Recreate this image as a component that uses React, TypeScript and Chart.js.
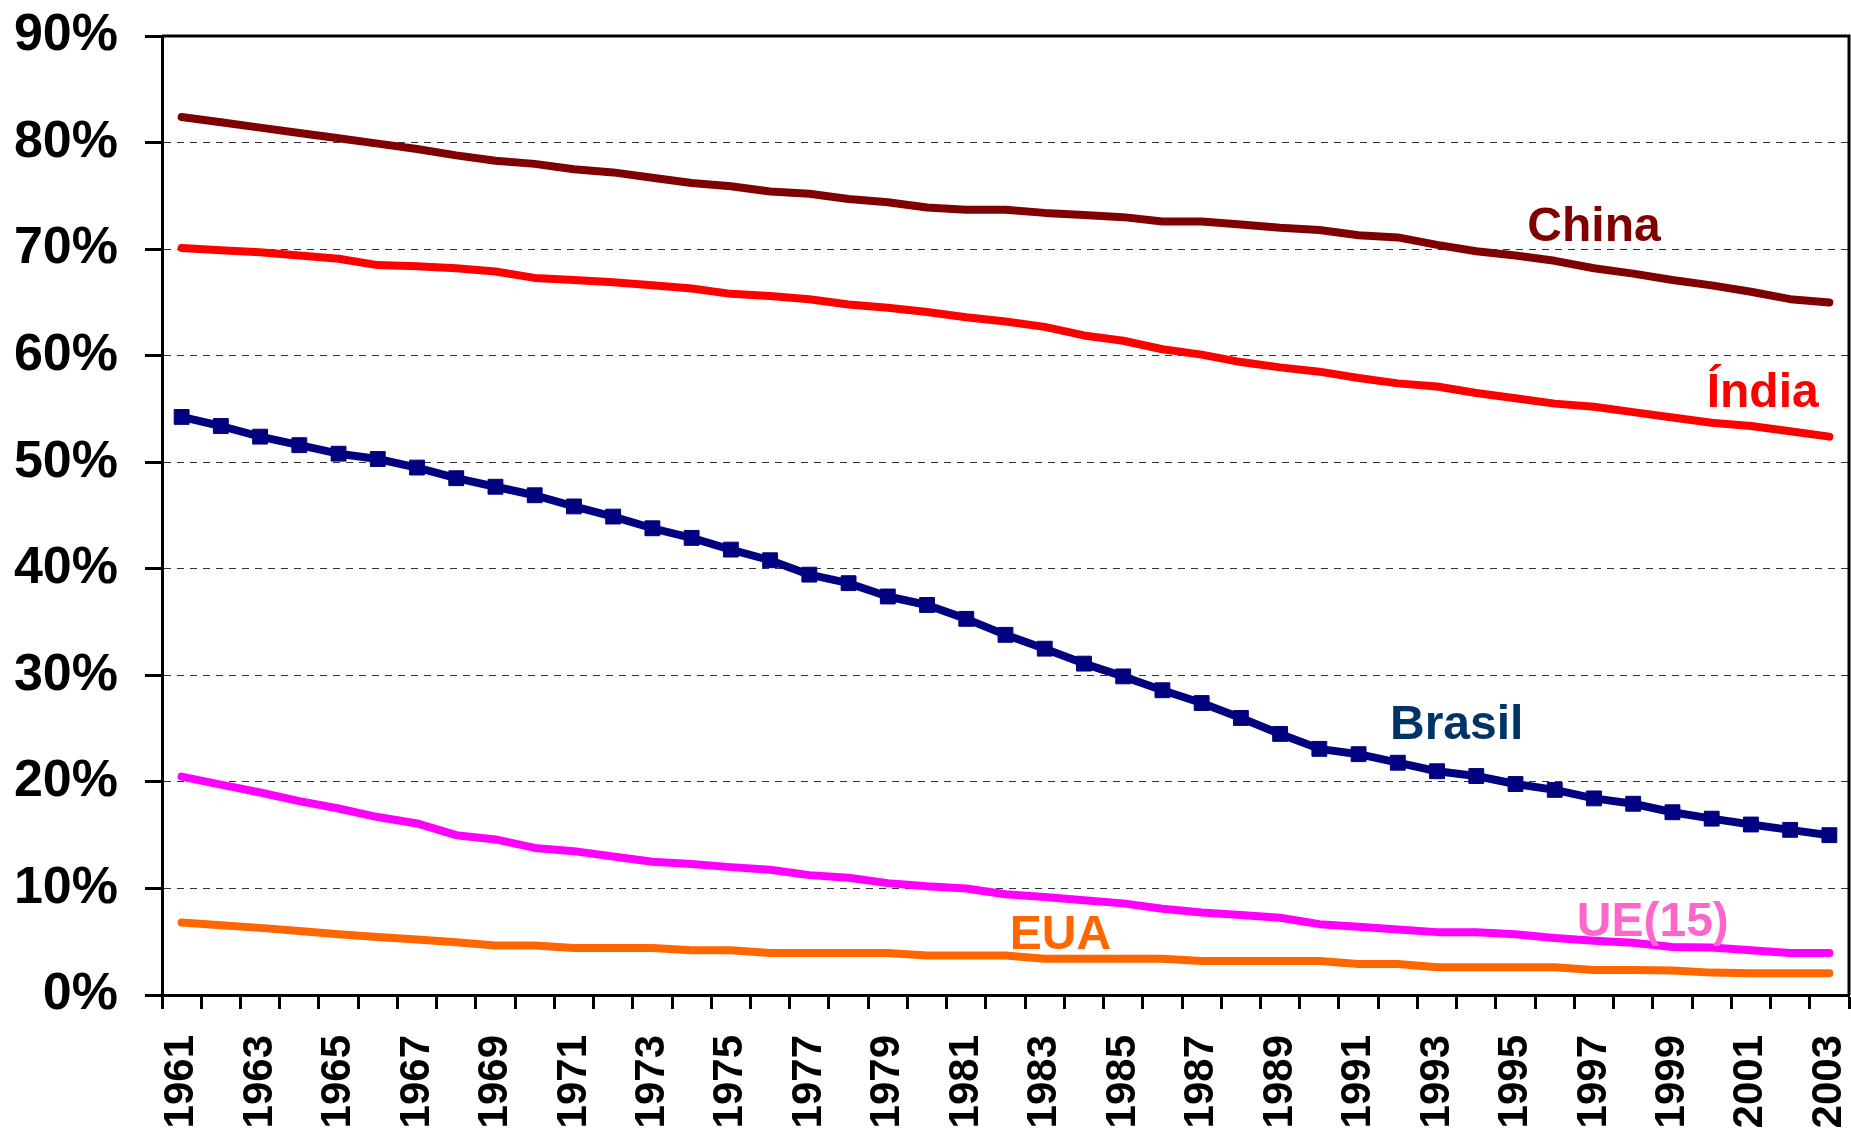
import { useEffect, useRef } from "react";
import { Chart, registerables } from "chart.js";

Chart.register(...registerables);

const FONT = "'Liberation Sans', Arial, Helvetica, sans-serif";

const years = [
  "1961", "1962", "1963", "1964", "1965", "1966", "1967", "1968", "1969", "1970",
  "1971", "1972", "1973", "1974", "1975", "1976", "1977", "1978", "1979", "1980",
  "1981", "1982", "1983", "1984", "1985", "1986", "1987", "1988", "1989", "1990",
  "1991", "1992", "1993", "1994", "1995", "1996", "1997", "1998", "1999", "2000",
  "2001", "2002", "2003",
];

const china = [
  82.4, 81.9, 81.4, 80.9, 80.4, 79.9, 79.4, 78.8, 78.3, 78.0,
  77.5, 77.2, 76.7, 76.2, 75.9, 75.4, 75.2, 74.7, 74.4, 73.9,
  73.7, 73.7, 73.4, 73.2, 73.0, 72.6, 72.6, 72.3, 72.0, 71.8,
  71.3, 71.1, 70.4, 69.8, 69.4, 68.9, 68.2, 67.7, 67.1, 66.6,
  66.0, 65.3, 65.0,
];

const india = [
  70.1, 69.9, 69.7, 69.4, 69.1, 68.5, 68.4, 68.2, 67.9, 67.3,
  67.1, 66.9, 66.6, 66.3, 65.8, 65.6, 65.3, 64.8, 64.5, 64.1,
  63.6, 63.2, 62.7, 61.9, 61.4, 60.6, 60.1, 59.4, 58.9, 58.5,
  57.9, 57.4, 57.1, 56.5, 56.0, 55.5, 55.2, 54.7, 54.2, 53.7,
  53.4, 52.9, 52.4,
];

const brasil = [
  54.25, 53.4, 52.4, 51.6, 50.8, 50.3, 49.5, 48.5, 47.7, 46.9,
  45.85, 44.9, 43.8, 42.9, 41.8, 40.8, 39.45, 38.65, 37.4, 36.6,
  35.3, 33.8, 32.5, 31.1, 29.9, 28.6, 27.4, 26.0, 24.5, 23.1,
  22.6, 21.8, 21.0, 20.55, 19.8, 19.25, 18.45, 17.95, 17.15, 16.55,
  16.0, 15.5, 15.0,
];

const ue15 = [
  20.5, 19.75, 19.0, 18.2, 17.5, 16.7, 16.1, 15.0, 14.6, 13.8,
  13.5, 13.0, 12.5, 12.3, 12.0, 11.75, 11.25, 11.0, 10.5, 10.2,
  10.0, 9.45, 9.2, 8.9, 8.6, 8.1, 7.75, 7.5, 7.25, 6.65,
  6.4, 6.15, 5.9, 5.9, 5.7, 5.35, 5.1, 4.9, 4.5, 4.45,
  4.2, 3.95, 3.95,
];

const eua = [
  6.8, 6.55, 6.3, 6.0, 5.7, 5.45, 5.2, 4.95, 4.65, 4.65,
  4.4, 4.4, 4.4, 4.2, 4.2, 3.95, 3.95, 3.95, 3.95, 3.7,
  3.7, 3.7, 3.4, 3.4, 3.4, 3.4, 3.2, 3.2, 3.2, 3.2,
  2.9, 2.9, 2.6, 2.6, 2.6, 2.6, 2.35, 2.35, 2.3, 2.1,
  2.05, 2.05, 2.05,
];

// Series name labels, anchored in data units (year, percent)
const seriesNames = ["China", "Índia", "Brasil", "EUA", "UE(15)"];
const nameYears = [1997.0, 2001.3, 1993.5, 1983.4, 1998.5];
const nameValues = [70.8, 55.2, 24.0, 4.3, 5.5];
const nameColors = ["#800000", "#FF0000", "#003366", "#FF6600", "#FF66CC"];

export default function App() {
  const canvasRef = useRef<HTMLCanvasElement | null>(null);

  useEffect(() => {
    const canvas = canvasRef.current;
    if (!canvas) return;

    const line = (data: number[], color: string, extra: any = {}) => ({
      data,
      borderColor: color,
      backgroundColor: color,
      borderWidth: 8,
      pointRadius: 0,
      pointHoverRadius: 0,
      tension: 0,
      borderCapStyle: "round",
      borderJoinStyle: "round",
      ...extra,
    });

    const framePlugin = {
      id: "frame",
      afterDraw(chart: any) {
        const { ctx, chartArea } = chart;
        ctx.save();
        ctx.strokeStyle = "#000";
        ctx.lineWidth = 3;
        ctx.beginPath();
        ctx.moveTo(chartArea.left, chartArea.top);
        ctx.lineTo(chartArea.right, chartArea.top);
        ctx.lineTo(chartArea.right, chartArea.bottom);
        ctx.stroke();
        ctx.restore();
      },
    };

    const namesPlugin = {
      id: "seriesNames",
      afterDatasetsDraw(chart: any) {
        const { ctx, scales } = chart;
        ctx.save();
        ctx.font = `bold 48px ${FONT}`;
        ctx.textAlign = "center";
        ctx.textBaseline = "alphabetic";
        seriesNames.forEach((name, i) => {
          const x = scales.x.getPixelForValue(nameYears[i] - 1961);
          const y = scales.y.getPixelForValue(nameValues[i]);
          ctx.fillStyle = nameColors[i];
          ctx.fillText(name, x, y);
        });
        ctx.restore();
      },
    };

    const chart = new Chart(canvas, {
      type: "line",
      data: {
        labels: years,
        datasets: [
          line(china, "#800000"),
          line(india, "#FF0000"),
          line(brasil, "#000080", {
            pointRadius: 10.5,
            pointHoverRadius: 10.5,
            pointStyle: "rect",
            pointBackgroundColor: "#000080",
            pointBorderColor: "#000080",
            pointBorderWidth: 1,
          }),
          line(ue15, "#FF00FF"),
          line(eua, "#FF6600"),
        ],
      },
      options: {
        responsive: false,
        animation: false,
        devicePixelRatio: 1,
        events: [],
        layout: { autoPadding: false, padding: { top: 36, right: 2, left: 0, bottom: 0 } },
        plugins: {
          legend: { display: false },
          tooltip: { enabled: false },
        },
        scales: {
          x: {
            type: "category",
            offset: true,
            grid: {
              display: true,
              offset: true,
              drawOnChartArea: false,
              drawTicks: true,
              tickLength: 14,
              tickWidth: 3,
              tickColor: "#000",
            },
            border: { display: true, width: 3, color: "#000" },
            ticks: {
              autoSkip: false,
              minRotation: 90,
              maxRotation: 90,
              padding: 26,
              color: "#000",
              font: { family: FONT, size: 42, weight: "bold" },
              callback: (_v: any, i: number) => (i % 2 === 0 ? years[i] : ""),
            },
            afterFit: (s: any) => {
              s.height = 137;
              s.paddingLeft = 0;
              s.paddingRight = 0;
            },
          },
          y: {
            min: 0,
            max: 90,
            ticks: {
              stepSize: 10,
              padding: 27,
              color: "#000",
              font: { family: FONT, size: 52, weight: "bold" },
              callback: (v: any) => `${v}%`,
            },
            grid: {
              color: (c: any) =>
                c.tick && (c.tick.value === 0 || c.tick.value === 90)
                  ? "rgba(0,0,0,0)"
                  : "#333",
              lineWidth: 1,
              drawTicks: true,
              tickLength: 17,
              tickWidth: 3,
              tickColor: "#000",
            },
            border: { display: true, width: 3, color: "#000", dash: [7, 6] },
            afterFit: (s: any) => {
              s.width = 162;
              s.paddingTop = 0;
              s.paddingBottom = 0;
            },
          },
        },
      } as any,
      plugins: [framePlugin, namesPlugin],
    });

    return () => chart.destroy();
  }, []);

  return (
    <div
      style={{
        position: "absolute",
        left: 0,
        top: 0,
        width: 1851,
        height: 1132,
        background: "#fff",
      }}
    >
      <canvas ref={canvasRef} width={1851} height={1132} style={{ display: "block" }} />
    </div>
  );
}
